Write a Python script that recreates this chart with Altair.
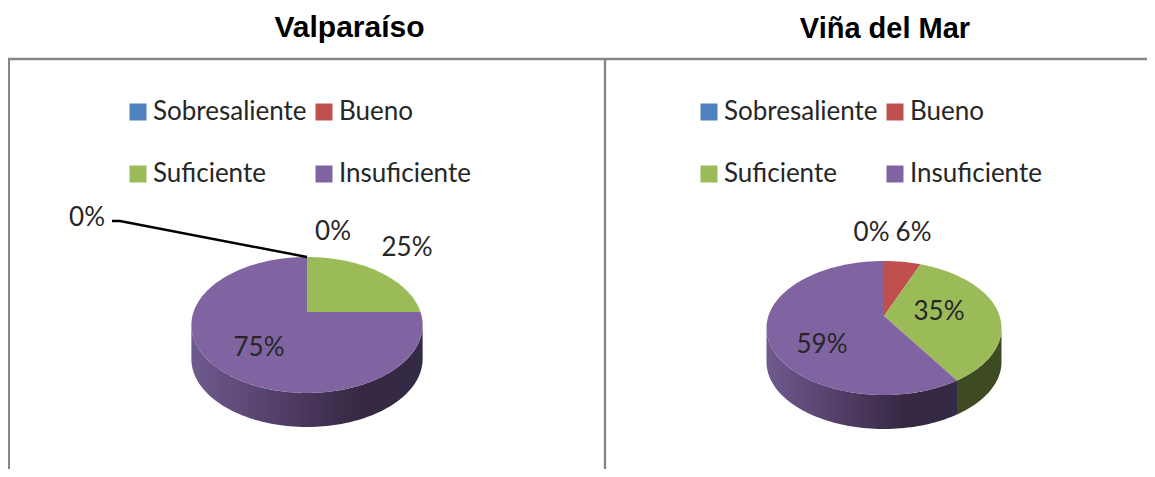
import math
import altair as alt
import pandas as pd

CATEGORIES = ["Sobresaliente", "Bueno", "Suficiente", "Insuficiente"]
COLORS = ["#4f81bd", "#c0504d", "#9bbb59", "#8064a2"]
TITLES = ["Valparaíso", "Viña del Mar"]
SHARES_VALPARAISO = [0, 0, 25, 75]
SHARES_VINA = [0, 6, 35, 59]

TEXT_FONT = "Lato, sans-serif"
TEXT_SIZE = 26
TEXT_COLOR = "#262626"
FRAME = "#868686"
WALL_GREEN = "#3e4a22"
WALL_PURPLE = {
    "gradient": "linear", "x1": 0, "x2": 1, "y1": 0, "y2": 0,
    "stops": [
        {"offset": 0, "color": "#6f5a8e"},
        {"offset": 0.35, "color": "#54416b"},
        {"offset": 0.72, "color": "#372843"},
        {"offset": 1, "color": "#332a45"},
    ],
}

XS = alt.Scale(domain=[8, 1147], nice=False, zero=False)
YS = alt.Scale(domain=[469, 8], nice=False, zero=False)
X = alt.X("x:Q", scale=XS, axis=None)
Y = alt.Y("y:Q", scale=YS, axis=None)


def project(theta_deg, geo):
    t = math.radians(theta_deg)
    v = -math.cos(t)
    den = 1 - geo["k"] * v
    return geo["cx"] + geo["b"] * math.sin(t) / den, geo["cy"] + geo["a"] * v / den


def arc_points(t1, t2, geo):
    n = max(2, int(abs(t2 - t1) / 1.5) + 1)
    return [project(t1 + (t2 - t1) * i / (n - 1), geo) for i in range(n)]


def polygon(points, mark_fill):
    df = pd.DataFrame(points, columns=["x", "y"]).assign(o=range(len(points)))
    return alt.Chart(df).mark_line(fill=mark_fill, strokeWidth=0, stroke="transparent").encode(
        x=X, y=Y, order="o:Q"
    )


def legend_layer(name, geo, legend_x):
    leg = pd.DataFrame({name: CATEGORIES, "x": geo["cx"], "y": geo["cy"] + 10})
    return alt.Chart(leg).mark_square(size=1, opacity=1).encode(
        x=X, y=Y,
        color=alt.Color(
            f"{name}:N",
            scale=alt.Scale(domain=CATEGORIES, range=COLORS),
            legend=alt.Legend(
                title=None, orient="none", legendX=legend_x, legendY=91,
                columns=2, direction="horizontal", symbolType="square",
                symbolSize=289, symbolStrokeWidth=0, symbolOpacity=1,
                labelFont=TEXT_FONT, labelFontSize=TEXT_SIZE,
                labelColor=TEXT_COLOR, labelLimit=300,
                labelOffset=2, rowPadding=36, columnPadding=4, padding=0,
            ),
        ),
    )


def pie_layers(shares, geo):
    lo = math.degrees(math.acos(-geo["k"]))
    hi = 360 - lo
    start = 0
    walls, faces = [], []
    for share, color, cat in zip(shares, COLORS, CATEGORIES):
        end = start + share * 3.6
        if share > 0:
            a, b = max(start, lo), min(end, hi)
            if a < b:
                top = arc_points(a, b, geo)
                bottom = [(x, y + geo["depth"]) for x, y in reversed(top)]
                walls.append(polygon(top + bottom, WALL_PURPLE if cat == "Insuficiente" else WALL_GREEN))
            faces.append(polygon([(geo["cx"], geo["cy"])] + arc_points(start, end, geo), color))
        start = end
    return walls + faces


GEO_L = dict(cx=307, cy=312, a=65.5, b=113.5, k=0.191, depth=34)
GEO_R = dict(cx=884, cy=316, a=64.85, b=115.6, k=0.179, depth=34)

FRAME_LINES = [(8, 59, 1147, 59), (8.8, 59, 8.8, 469), (605, 59, 605, 469)]
LEADER = [(112, 221), (120, 221), (307, 257)]
LABELS = [
    (87, 218, "0%"), (333, 232, "0%"), (407, 248, "25%"), (259, 348, "75%"),
    (871.5, 233, "0%"), (913.5, 233, "6%"), (939, 312, "35%"), (822, 345, "59%"),
]
TITLE_POS = [(349.5, 28), (885, 29)]
TITLE_SIZES = [30, 29]

layers = [legend_layer("cat_a", GEO_L, 117), legend_layer("cat_b", GEO_R, 688)]
layers += pie_layers(SHARES_VALPARAISO, GEO_L)
layers += pie_layers(SHARES_VINA, GEO_R)

for (x1, y1, x2, y2) in FRAME_LINES:
    layers.append(
        alt.Chart(pd.DataFrame({"x": [x1], "y": [y1], "x2": [x2], "y2": [y2]}))
        .mark_rule(color=FRAME, strokeWidth=2.4)
        .encode(x=X, x2="x2:Q", y=Y, y2="y2:Q")
    )

leader_df = pd.DataFrame(LEADER, columns=["x", "y"]).assign(o=range(len(LEADER)))
layers.append(
    alt.Chart(leader_df).mark_line(color="#000000", strokeWidth=2.4).encode(x=X, y=Y, order="o:Q")
)
layers.append(
    alt.Chart(pd.DataFrame(LABELS, columns=["x", "y", "t"]))
    .mark_text(font=TEXT_FONT, fontSize=TEXT_SIZE, color=TEXT_COLOR, align="center", baseline="middle")
    .encode(x=X, y=Y, text="t:N")
)
for (tx, ty), title, size in zip(TITLE_POS, TITLES, TITLE_SIZES):
    layers.append(
        alt.Chart(pd.DataFrame({"x": [tx], "y": [ty], "t": [title]}))
        .mark_text(font="Liberation Sans", fontSize=size, fontWeight="bold", color="#000000", align="center", baseline="middle")
        .encode(x=X, y=Y, text="t:N")
    )

chart = (
    alt.layer(*layers)
    .resolve_scale(color="independent")
    .properties(
        width=1139, height=461, padding=0, background="#ffffff",
        autosize=alt.AutoSizeParams(type="none"),
    )
    .configure_view(stroke=None)
)
chart.save("out.html", embed_options={"renderer": "svg", "actions": False})
